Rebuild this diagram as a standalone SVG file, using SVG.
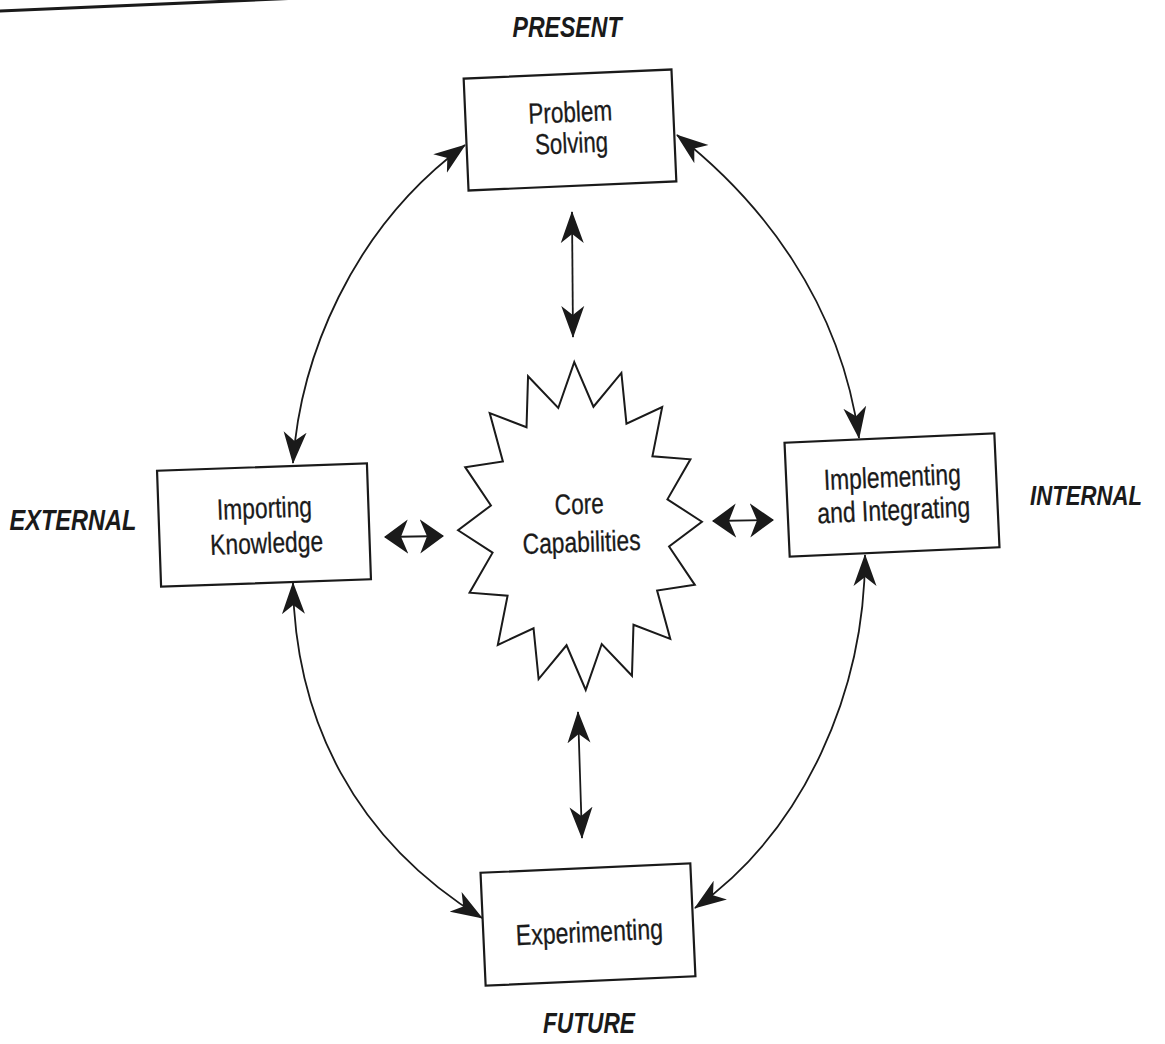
<svg xmlns="http://www.w3.org/2000/svg" width="1165" height="1044" viewBox="0 0 1165 1044">
<defs>
<style>
.box{fill:#fff;stroke:#1a1a1a;stroke-width:2.2}
.star{fill:#fff;stroke:#1a1a1a;stroke-width:2;stroke-linejoin:miter}
.t{font-family:"Liberation Sans",Arial,sans-serif;font-size:29px;fill:#1a1a1a;stroke:#1a1a1a;stroke-width:0.3;text-anchor:middle}
.lab{font-family:"Liberation Sans",Arial,sans-serif;font-size:29px;font-weight:bold;font-style:italic;fill:#1a1a1a;text-anchor:middle}
.con{fill:none;stroke:#1a1a1a;stroke-width:1.8}
</style>
<marker id="ah" markerUnits="userSpaceOnUse" viewBox="0 -12 32 24" refX="31" refY="0" markerWidth="32" markerHeight="24" orient="auto-start-reverse">
<path d="M32,0 L0,-11.5 L9,0 L0,11.5 Z" fill="#1a1a1a"/>
</marker>
<marker id="ahw" markerUnits="userSpaceOnUse" viewBox="0 -18 24 36" refX="23" refY="0" markerWidth="24" markerHeight="36" orient="auto-start-reverse">
<path d="M24,0 L0,-17 L7,0 L0,17 Z" fill="#1a1a1a"/>
</marker>
</defs>
<rect x="0" y="0" width="1165" height="1044" fill="#fff"/>
<path d="M-2,11 L300,-2" stroke="#1a1a1a" stroke-width="3" fill="none"/>

<g id="connectors">
<path class="con" d="M293,463 C300,360 350,230 465,145" marker-start="url(#ah)" marker-end="url(#ah)"/>
<path class="con" d="M677,135 C760,200 840,300 859,438" marker-start="url(#ah)" marker-end="url(#ah)"/>
<path class="con" d="M293,583 C295,720 355,840 482,918" marker-start="url(#ah)" marker-end="url(#ah)"/>
<path class="con" d="M865,555 C865,690 805,830 695,908" marker-start="url(#ah)" marker-end="url(#ah)"/>
<path class="con" d="M572,212 L573,337" marker-start="url(#ah)" marker-end="url(#ah)"/>
<path class="con" d="M578,712 L582,838" marker-start="url(#ah)" marker-end="url(#ah)"/>
<path class="con" d="M385,537 L443,536" marker-start="url(#ahw)" marker-end="url(#ahw)"/>
<path class="con" d="M713,521 L773,520" marker-start="url(#ahw)" marker-end="url(#ahw)"/>
</g>

<g id="problem-solving" transform="rotate(-2.5 570 130)">
<rect class="box" x="466" y="74" width="208" height="112"/>
<text class="t" x="571" y="122" textLength="84" lengthAdjust="spacingAndGlyphs">Problem</text>
<text class="t" x="571" y="153" textLength="73" lengthAdjust="spacingAndGlyphs">Solving</text>
</g>

<g id="importing-knowledge" transform="rotate(-2 264 525)">
<rect class="box" x="159" y="467" width="210" height="116"/>
<text class="t" x="265" y="518" textLength="95" lengthAdjust="spacingAndGlyphs">Importing</text>
<text class="t" x="266" y="553" textLength="113" lengthAdjust="spacingAndGlyphs">Knowledge</text>
</g>

<g id="implementing-integrating" transform="rotate(-2.6 892 495)">
<rect class="box" x="787" y="438" width="210" height="114"/>
<text class="t" x="893" y="487" textLength="137" lengthAdjust="spacingAndGlyphs">Implementing</text>
<text class="t" x="893" y="520" textLength="153" lengthAdjust="spacingAndGlyphs">and Integrating</text>
</g>

<g id="experimenting" transform="rotate(-2.6 588 925)">
<rect class="box" x="483" y="868" width="210" height="113"/>
<text class="t" x="589" y="942" textLength="147" lengthAdjust="spacingAndGlyphs">Experimenting</text>
</g>

<g id="core-capabilities" transform="rotate(-2 580 526)">
<polygon class="star" points="580,362 597.6,407.3 626.7,374.5 630,425.4 666.3,410 654.8,458.8 692.7,463.2 668.3,502.4 702,526 668.3,549.6 692.7,588.8 654.8,593.2 666.3,642 630,626.6 626.7,677.5 597.6,644.7 580,690 562.4,644.7 533.3,677.5 530,626.6 493.7,642 505.2,593.2 467.3,588.8 491.7,549.6 458,526 491.7,502.4 467.3,463.2 505.2,458.8 493.7,410 530,425.4 533.3,374.5 562.4,407.3"/>
<text class="t" x="580" y="514" textLength="49" lengthAdjust="spacingAndGlyphs">Core</text>
<text class="t" x="581" y="552" textLength="118" lengthAdjust="spacingAndGlyphs">Capabilities</text>
</g>

<g id="labels">
<text class="lab" x="567" y="37" textLength="109" lengthAdjust="spacingAndGlyphs">PRESENT</text>
<text class="lab" x="73" y="530" textLength="127" lengthAdjust="spacingAndGlyphs">EXTERNAL</text>
<text class="lab" x="1086" y="505" style="font-size:27px" textLength="112" lengthAdjust="spacingAndGlyphs">INTERNAL</text>
<text class="lab" x="589" y="1033" textLength="92" lengthAdjust="spacingAndGlyphs">FUTURE</text>
</g>
</svg>
